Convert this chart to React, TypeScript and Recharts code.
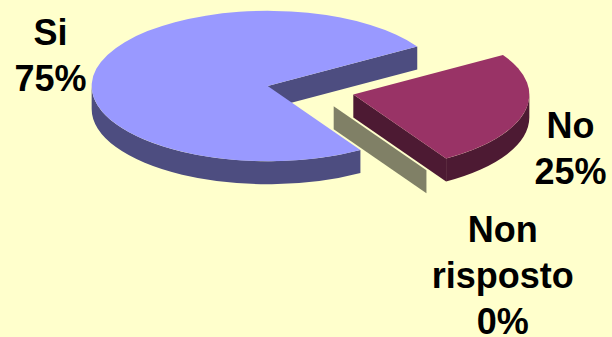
import React from 'react';
import { PieChart, Pie } from 'recharts';

// answers and shares
const categories = ['Si', 'No', 'Non risposto'];
const values = [75, 25, 0];

// top faces and the darker side faces (Excel 3D pie look)
const topColors = ['#9999FF', '#993366', '#FFFFCC'];
const sideColors = ['#4D4D80', '#4D1A33', '#808066'];

const data = categories.map((name, i) => ({
  name,
  value: values[i],
  top: topColors[i],
  side: sideColors[i],
}));

const W = 612;
const H = 337;
const TILT = 0.427; // vertical squash of the ellipse
const DEPTH = 23; // thickness of the pie
const EXPLODE = 44; // distance each slice is pulled out
const FONT_SIZE = 36;
const LINE = 46;
const RAD = Math.PI / 180;

let ctx: CanvasRenderingContext2D | null = null;
function measure(text: string) {
  if (!ctx && typeof document !== 'undefined') {
    ctx = document.createElement('canvas').getContext('2d');
  }
  if (ctx) {
    ctx.font = `bold ${FONT_SIZE}px Arial, "Liberation Sans", sans-serif`;
    return ctx.measureText(text).width;
  }
  return text.length * FONT_SIZE * 0.6;
}

function pt(cx: number, cy: number, a: number, r: number, dz = 0) {
  return [cx + r * Math.cos(a * RAD), cy - r * Math.sin(a * RAD) * TILT + dz];
}

function Slice3D(props: any) {
  const { cx, cy, outerRadius: R, startAngle, endAngle } = props;
  const entry = props.payload ?? props;
  const mid = (startAngle + endAngle) / 2;
  const ox = cx + EXPLODE * Math.cos(mid * RAD);
  const oy = cy - EXPLODE * Math.sin(mid * RAD) * TILT;
  const a1 = Math.min(startAngle, endAngle);
  const a2 = Math.max(startAngle, endAngle);
  const ry = R * TILT;
  const sides: string[] = [];

  // cut faces along the two radial edges, only when facing the viewer
  const radial = (a: number, normal: number) => {
    if (Math.sin(normal * RAD) >= 0) return;
    const [x1, y1] = pt(ox, oy, a, R);
    sides.push(`M${ox},${oy}L${x1},${y1}L${x1},${y1 + DEPTH}L${ox},${oy + DEPTH}Z`);
  };
  radial(a1, a1 - 90);
  radial(a2, a2 + 90);

  // curved outer wall, front half only
  for (let n = -3; n <= 2; n++) {
    const lo = Math.max(a1, 180 + 360 * n);
    const hi = Math.min(a2, 360 + 360 * n);
    if (hi <= lo) continue;
    const [x1, y1] = pt(ox, oy, lo, R);
    const [x2, y2] = pt(ox, oy, hi, R);
    sides.push(
      `M${x1},${y1}A${R},${ry} 0 0 0 ${x2},${y2}L${x2},${y2 + DEPTH}A${R},${ry} 0 0 1 ${x1},${y1 + DEPTH}Z`
    );
  }

  let top = '';
  if (a2 - a1 > 0.01) {
    const [sx, sy] = pt(ox, oy, startAngle, R);
    const [ex, ey] = pt(ox, oy, endAngle, R);
    const large = a2 - a1 > 180 ? 1 : 0;
    const sweep = startAngle > endAngle ? 1 : 0;
    top = `M${ox},${oy}L${sx},${sy}A${R},${ry} 0 ${large} ${sweep} ${ex},${ey}Z`;
  }

  return (
    <g>
      {sides.map((d, i) => (
        <path key={i} d={d} fill={entry.side} stroke="none" />
      ))}
      {top && <path d={top} fill={entry.top} stroke="none" />}
    </g>
  );
}

function renderLabel(props: any) {
  const { cx, cy, midAngle, outerRadius, percent, name } = props;
  const c = Math.cos(midAngle * RAD);
  const s = Math.sin(midAngle * RAD);
  const r = outerRadius + EXPLODE;
  const px = cx + r * c;
  const py = cy - r * s * TILT + DEPTH / 2;
  const lines = [...String(name).split(' '), `${Math.round((percent || 0) * 100)}%`];
  const w = Math.max(...lines.map(measure));
  const x = px + c * 10 + Math.sign(c) * (w / 2);
  const yc = py - s * 110;
  const capH = 0.716 * FONT_SIZE;
  const y0 = yc - (LINE * (lines.length - 1) + capH) / 2 + capH;
  return (
    <text
      key={name}
      x={x}
      y={y0}
      textAnchor="middle"
      fill="#000"
      fontWeight="bold"
      fontSize={FONT_SIZE}
      fontFamily='Arial, "Liberation Sans", sans-serif'
    >
      {lines.map((l, i) => (
        <tspan key={i} x={x} y={y0 + i * LINE}>
          {l}
        </tspan>
      ))}
    </text>
  );
}

export default function App() {
  return (
    <div style={{ width: W, height: H, background: '#FFFFCC' }}>
      <style>{'html,body{margin:0;background:#FFFFCC;}'}</style>
      <PieChart width={W} height={H} margin={{ top: 0, right: 0, bottom: 0, left: 0 }}>
        <Pie
          data={data}
          dataKey="value"
          nameKey="name"
          cx={310.5}
          cy={90.3}
          innerRadius={0}
          outerRadius={176}
          startAngle={-58.2}
          endAngle={-418.2}
          stroke="none"
          shape={Slice3D}
          inactiveShape={Slice3D}
          activeShape={Slice3D}
          label={renderLabel}
          labelLine={false}
          isAnimationActive={false}
        />
      </PieChart>
    </div>
  );
}
